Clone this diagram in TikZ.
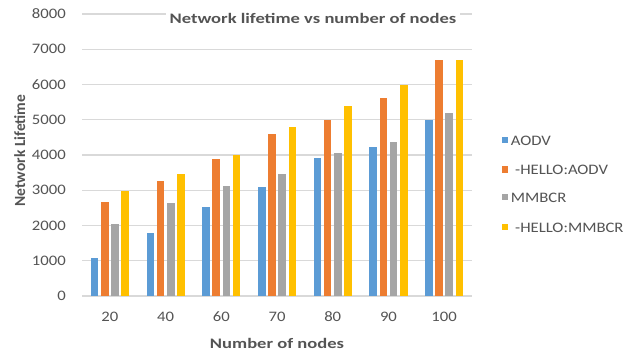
\documentclass[tikz,border=0pt]{standalone}
\usepackage{fontspec}
\setmainfont{Carlito}
\newfontfamily\numfont[FakeStretch=1.15]{Carlito}
\newfontfamily\headfont[FakeStretch=1.28]{Carlito}
\newfontfamily\sidefont{Carlito}

\definecolor{cAODV}{HTML}{5B9BD5}
\definecolor{cHAODV}{HTML}{ED7D31}
\definecolor{cMMBCR}{HTML}{A5A5A5}
\definecolor{cHMMBCR}{HTML}{FFC000}
\definecolor{gridc}{HTML}{D9D9D9}
\definecolor{txt}{HTML}{545454}

\tikzset{
  gridline/.style={draw=gridc, line width=1.1pt},
  ticklbl/.style={text=txt, inner sep=0pt, font=\numfont\fontsize{14.5}{17}\selectfont},
  headlbl/.style={text=txt, inner sep=0pt, font=\headfont\bfseries\fontsize{14.5}{17}\selectfont},
  legkey/.style={minimum size=6.6pt, inner sep=0pt},
}

\begin{document}
\begin{tikzpicture}[x=1pt, y=-1pt]
\useasboundingbox (0,0) rectangle (623,353);
\fill[white] (0,0) rectangle (623,353);

% horizontal grid and value axis labels
\foreach \v/\t in {0/0,1/1000,2/2000,3/3000,4/4000,5/5000,6/6000,7/7000,8/8000}{
  \pgfmathsetmacro\gy{296-35.25*\v}
  \draw[gridline] (82,\gy) -- (472,\gy);
  \node[ticklbl, anchor=base east] (ytick\v) at (66,{\gy+4.6}) {\t};
}

% bars per category: AODV, -HELLO:AODV, MMBCR, -HELLO:MMBCR
\foreach \k/\lab/\a/\b/\c/\d in {
  0/20/1080/2680/2050/2980,
  1/40/1800/3250/2650/3450,
  2/60/2530/3900/3130/4000,
  3/70/3100/4600/3460/4800,
  4/80/3920/5000/4060/5380,
  5/90/4220/5620/4370/6000,
  6/100/5000/6700/5200/6700}{
  \pgfmathsetmacro\cx{109.9+55.71*\k}
  \fill[cAODV]   ({\cx-19.1},296) rectangle ({\cx-11.5},{296-0.03525*\a});
  \fill[cHAODV]  ({\cx-8.9},296)  rectangle ({\cx-1.3},{296-0.03525*\b});
  \fill[cMMBCR]  ({\cx+1.3},296)  rectangle ({\cx+8.9},{296-0.03525*\c});
  \fill[cHMMBCR] ({\cx+11.5},296) rectangle ({\cx+19.1},{296-0.03525*\d});
  \node[ticklbl, anchor=base] (xtick\k) at (\cx,321.5) {\lab};
}

% titles
\node[headlbl, anchor=base, fill=white, inner xsep=4pt, inner ysep=3pt] (title) at (313,24)
  {Network lifetime vs number of nodes};
\node[headlbl, anchor=base] (xlabel) at (277,348) {Number of nodes};
\node[text=txt, inner sep=0pt, font=\sidefont\bfseries\fontsize{15.5}{18}\selectfont,
      rotate=90, anchor=base] (ylabel) at (25,150.5) {Network Lifetime};

% legend
\node[legkey, fill=cAODV]   (k1) at (504.9,140) {};
\node[legkey, fill=cHAODV]  (k2) at (504.9,169.5) {};
\node[legkey, fill=cMMBCR]  (k3) at (504.9,197) {};
\node[legkey, fill=cHMMBCR] (k4) at (504.9,227) {};
\node[ticklbl, anchor=base west] (l1) at (510.7,145) {AODV};
\node[ticklbl, anchor=base west] (l2) at (515,174.5) {-HELLO:AODV};
\node[ticklbl, anchor=base west] (l3) at (510.7,202) {MMBCR};
\node[ticklbl, anchor=base west] (l4) at (515,232) {-HELLO:MMBCR};
\end{tikzpicture}
\end{document}
